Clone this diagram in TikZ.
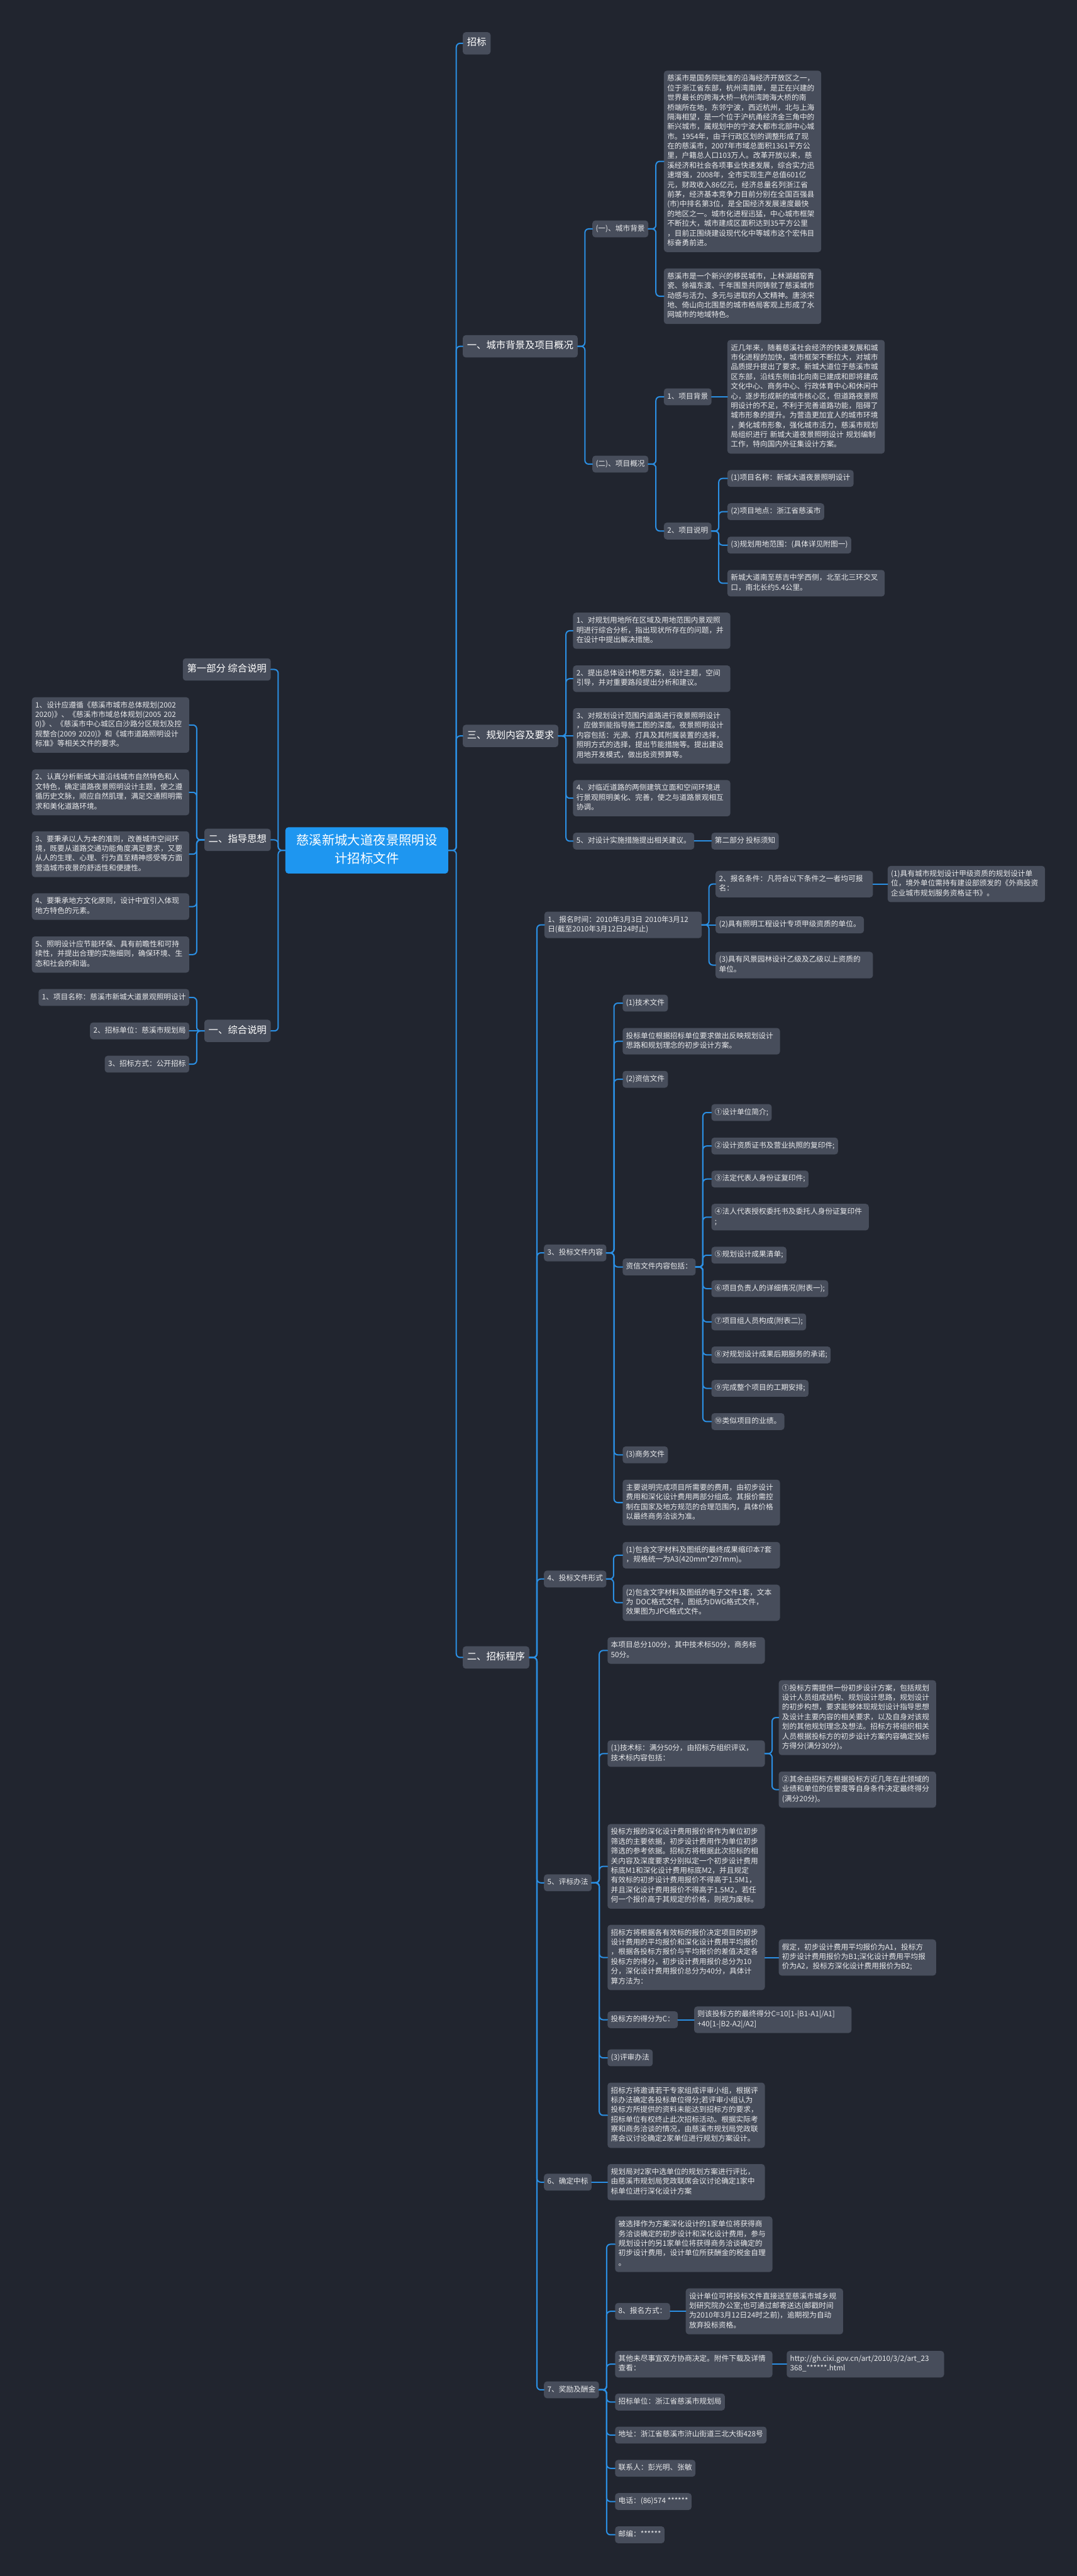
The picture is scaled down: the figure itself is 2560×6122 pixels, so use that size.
\documentclass[tikz,border=0pt]{standalone}
\usepackage{fontspec}
\setmainfont{Noto Sans CJK SC}
\definecolor{bgc}{HTML}{21252F}
\definecolor{boxc}{HTML}{474D5B}
\definecolor{linkc}{HTML}{2B8FE3}
\definecolor{rootc}{HTML}{1E96F0}
\definecolor{txtc}{HTML}{E9EAEC}
\begin{document}
\begin{tikzpicture}[x=1pt,y=-1pt,line cap=round,line join=round]
  \tikzset{
    box/.style={fill=boxc,text=txtc,rounded corners=7pt,inner xsep=8pt,inner ysep=8.5pt,
      font=\fontsize{17.5pt}{23pt}\selectfont,align=left,
      execute at begin node=\strut,execute at end node=\strut},
    para/.style={box,text width=358pt},
    head/.style={box,text=white,font=\fontsize{23pt}{30pt}\selectfont,inner xsep=10pt,inner ysep=11.5pt},
    rootbox/.style={fill=rootc,text=white,rounded corners=7pt,text width=345pt,align=center,
      inner xsep=21pt,inner ysep=12.5pt,font=\fontsize{30.5pt}{42.5pt}\selectfont,
      execute at begin node=\strut,execute at end node=\strut},
    link/.style={draw=linkc,line width=3pt,rounded corners=9pt}
  }
  \useasboundingbox (0,0) rectangle (2560,6122);
  \fill[bgc] (0,0) rectangle (2560,6122);

  \node[rootbox] (root) at (872,2021) {慈溪新城大道夜景照明设\\计招标文件};

  % main branches
  \node[head,anchor=west] (zb) at (1100,103) {招标};
  \node[head,anchor=west] (bg) at (1100,823) {一、城市背景及项目概况};
  \node[head,anchor=west] (gh) at (1100,1749) {三、规划内容及要求};
  \node[head,anchor=west] (cx) at (1100,3939) {二、招标程序};
  \node[head,anchor=east] (bf) at (644,1591) {第一部分 综合说明};
  \node[head,anchor=east] (zd) at (644,1996) {二、指导思想};
  \node[head,anchor=east] (zh) at (644,2450) {一、综合说明};

  % left side
  \node[para,anchor=east] (z1) at (450,1723) {1、设计应遵循《慈溪市城市总体规划(2002\\2020)》、《慈溪市市域总体规划(2005 202\\0)》、《慈溪市中心城区白沙路分区规划及控\\规整合(2009 2020)》和《城市道路照明设计\\标准》等相关文件的要求。};
  \node[para,anchor=east] (z2) at (450,1883) {2、认真分析新城大道沿线城市自然特色和人\\文特色，确定道路夜景照明设计主题，使之遵\\循历史文脉，顺应自然肌理，满足交通照明需\\求和美化道路环境。};
  \node[para,anchor=east] (z3) at (450,2030) {3、要秉承以人为本的准则，改善城市空间环\\境，既要从道路交通功能角度满足要求，又要\\从人的生理、心理、行为直至精神感受等方面\\营造城市夜景的舒适性和便捷性。};
  \node[para,anchor=east] (z4) at (450,2154.5) {4、要秉承地方文化原则，设计中宜引入体现\\地方特色的元素。};
  \node[para,anchor=east] (z5) at (450,2268.5) {5、照明设计应节能环保、具有前瞻性和可持\\续性，并提出合理的实施细则，确保环境、生\\态和社会的和谐。};
  \node[box,anchor=east] (h1) at (450,2370.5) {1、项目名称：慈溪市新城大道景观照明设计};
  \node[box,anchor=east] (h2) at (450,2450) {2、招标单位：慈溪市规划局};
  \node[box,anchor=east] (h3) at (450,2529) {3、招标方式：公开招标};

  % city background and project
  \node[box,anchor=west] (bg1) at (1408,544) {(一)、城市背景};
  \node[box,anchor=west] (bg2) at (1408,1103) {(二)、项目概况};
  \node[para,anchor=west] (t1) at (1578,383.5) {慈溪市是国务院批准的沿海经济开放区之一，\\位于浙江省东部，杭州湾南岸，是正在兴建的\\世界最长的跨海大桥—杭州湾跨海大桥的南\\桥端所在地，东邻宁波，西近杭州，北与上海\\隔海相望，是一个位于沪杭甬经济金三角中的\\新兴城市，属规划中的宁波大都市北部中心城\\市。1954年，由于行政区划的调整形成了现\\在的慈溪市，2007年市域总面积1361平方公\\里，户籍总人口103万人。改革开放以来，慈\\溪经济和社会各项事业快速发展，综合实力迅\\速增强，2008年，全市实现生产总值601亿\\元，财政收入86亿元，经济总量名列浙江省\\前茅，经济基本竞争力目前分别在全国百强县\\(市)中排名第3位，是全国经济发展速度最快\\的地区之一。城市化进程迅猛，中心城市框架\\不断拉大，城市建成区面积达到35平方公里\\，目前正围绕建设现代化中等城市这个宏伟目\\标奋勇前进。};
  \node[para,anchor=west] (t2) at (1578,704) {慈溪市是一个新兴的移民城市，上林湖越窑青\\瓷、徐福东渡、千年围垦共同铸就了慈溪城市\\动感与活力、多元与进取的人文精神。唐涂宋\\地、倚山向北围垦的城市格局客观上形成了水\\网城市的地域特色。};
  \node[box,anchor=west] (p1) at (1578,943) {1、项目背景};
  \node[box,anchor=west] (p2) at (1578,1262) {2、项目说明};
  \node[para,anchor=west] (p1t) at (1729,943) {近几年来，随着慈溪社会经济的快速发展和城\\市化进程的加快，城市框架不断拉大，对城市\\品质提升提出了要求。新城大道位于慈溪市城\\区东部，沿线东侧由北向南已建成和即将建成\\文化中心、商务中心、行政体育中心和休闲中\\心，逐步形成新的城市核心区，但道路夜景照\\明设计的不足，不利于完善道路功能，阻碍了\\城市形象的提升。为营造更加宜人的城市环境\\，美化城市形象，强化城市活力，慈溪市规划\\局组织进行 新城大道夜景照明设计 规划编制\\工作，特向国内外征集设计方案。};
  \node[box,anchor=west] (s1) at (1729,1137) {(1)项目名称：新城大道夜景照明设计};
  \node[box,anchor=west] (s2) at (1729,1216) {(2)项目地点：浙江省慈溪市};
  \node[box,anchor=west] (s3) at (1729,1295.5) {(3)规划用地范围：(具体详见附图一)};
  \node[para,anchor=west] (s4) at (1729,1386) {新城大道南至慈吉中学西侧，北至北三环交叉\\口，南北长约5.4公里。};

  % planning content
  \node[para,anchor=west] (g1) at (1362,1499) {1、对规划用地所在区域及用地范围内景观照\\明进行综合分析，指出现状所存在的问题，并\\在设计中提出解决措施。};
  \node[para,anchor=west] (g2) at (1362,1613) {2、提出总体设计构思方案，设计主题，空间\\引导，并对重要路段提出分析和建议。};
  \node[para,anchor=west] (g3) at (1362,1749) {3、对规划设计范围内道路进行夜景照明设计\\，应做到能指导施工图的深度。夜景照明设计\\内容包括：光源、灯具及其附属装置的选择，\\照明方式的选择，提出节能措施等。提出建设\\用地开发模式，做出投资预算等。};
  \node[para,anchor=west] (g4) at (1362,1897) {4、对临近道路的两侧建筑立面和空间环境进\\行景观照明美化、完善，使之与道路景观相互\\协调。};
  \node[box,anchor=west] (g5) at (1362,1999) {5、对设计实施措施提出相关建议。};
  \node[box,anchor=west] (g6) at (1691,1999) {第二部分 投标须知};

  % procedure
  \node[para,anchor=west] (c1) at (1294,2198) {1、报名时间：2010年3月3日 2010年3月12\\日(截至2010年3月12日24时止)};
  \node[para,anchor=west] (c12) at (1701,2101) {2、报名条件：凡符合以下条件之一者均可报\\名：};
  \node[para,anchor=west] (c12a) at (2110,2101) {(1)具有城市规划设计甲级资质的规划设计单\\位，境外单位需持有建设部颁发的《外商投资\\企业城市规划服务资格证书》。};
  \node[box,anchor=west] (c1b) at (1701,2198) {(2)具有照明工程设计专项甲级资质的单位。};
  \node[para,anchor=west] (c1c) at (1701,2293.5) {(3)具有风景园林设计乙级及乙级以上资质的\\单位。};

  \node[box,anchor=west] (c3) at (1293,2977.5) {3、投标文件内容};
  \node[box,anchor=west] (c31) at (1480,2384) {(1)技术文件};
  \node[para,anchor=west] (c32) at (1480,2474.5) {投标单位根据招标单位要求做出反映规划设计\\思路和规划理念的初步设计方案。};
  \node[box,anchor=west] (c33) at (1480,2565) {(2)资信文件};
  \node[box,anchor=west] (c34) at (1480,3011) {资信文件内容包括：};
  \node[box,anchor=west] (c35) at (1480,3457.5) {(3)商务文件};
  \node[para,anchor=west] (c36) at (1480,3571) {主要说明完成项目所需要的费用，由初步设计\\费用和深化设计费用两部分组成。其报价需控\\制在国家及地方规范的合理范围内，具体价格\\以最终商务洽谈为准。};
  \node[box,anchor=west] (q1) at (1691,2644) {①设计单位简介;};
  \node[box,anchor=west] (q2) at (1691,2723.5) {②设计资质证书及营业执照的复印件;};
  \node[box,anchor=west] (q3) at (1691,2802) {③法定代表人身份证复印件;};
  \node[para,anchor=west] (q4) at (1691,2892.5) {④法人代表授权委托书及委托人身份证复印件\\;};
  \node[box,anchor=west] (q5) at (1691,2983) {⑤规划设计成果清单;};
  \node[box,anchor=west] (q6) at (1691,3062.5) {⑥项目负责人的详细情况(附表一);};
  \node[box,anchor=west] (q7) at (1691,3141.5) {⑦项目组人员构成(附表二);};
  \node[box,anchor=west] (q8) at (1691,3220) {⑧对规划设计成果后期服务的承诺;};
  \node[box,anchor=west] (q9) at (1691,3299.5) {⑨完成整个项目的工期安排;};
  \node[box,anchor=west] (q10) at (1691,3378.5) {⑩类似项目的业绩。};

  \node[box,anchor=west] (c4) at (1293,3752.5) {4、投标文件形式};
  \node[para,anchor=west] (c41) at (1480,3696) {(1)包含文字材料及图纸的最终成果缩印本7套\\，规格统一为A3(420mm*297mm)。};
  \node[para,anchor=west] (c42) at (1480,3809) {(2)包含文字材料及图纸的电子文件1套，文本\\为 DOC格式文件，图纸为DWG格式文件，\\效果图为JPG格式文件。};

  \node[box,anchor=west] (c5) at (1293,4474.5) {5、评标办法};
  \node[para,anchor=west] (e1) at (1444,3922.5) {本项目总分100分，其中技术标50分，商务标\\50分。};
  \node[para,anchor=west] (e2) at (1444,4167.5) {(1)技术标：满分50分，由招标方组织评议，\\技术标内容包括：};
  \node[para,anchor=west] (e21) at (1851,4082) {①投标方需提供一份初步设计方案，包括规划\\设计人员组成结构、规划设计思路，规划设计\\的初步构想，要求能够体现规划设计指导思想\\及设计主要内容的相关要求，以及自身对该规\\划的其他规划理念及想法。招标方将组织相关\\人员根据投标方的初步设计方案内容确定投标\\方得分(满分30分)。};
  \node[para,anchor=west] (e22) at (1851,4253) {②其余由招标方根据投标方近几年在此领域的\\业绩和单位的信誉度等自身条件决定最终得分\\(满分20分)。};
  \node[para,anchor=west] (e3) at (1444,4435.5) {投标方报的深化设计费用报价将作为单位初步\\筛选的主要依据，初步设计费用作为单位初步\\筛选的参考依据。招标方将根据此次招标的相\\关内容及深度要求分别拟定一个初步设计费用\\标底M1和深化设计费用标底M2，并且规定\\有效标的初步设计费用报价不得高于1.5M1，\\并且深化设计费用报价不得高于1.5M2，若任\\何一个报价高于其规定的价格，则视为废标。};
  \node[para,anchor=west] (e4) at (1444,4652) {招标方将根据各有效标的报价决定项目的初步\\设计费用的平均报价和深化设计费用平均报价\\，根据各投标方报价与平均报价的差值决定各\\投标方的得分，初步设计费用报价总分为10\\分，深化设计费用报价总分为40分，具体计\\算方法为：};
  \node[para,anchor=west] (e41) at (1851,4652) {假定，初步设计费用平均报价为A1，投标方\\初步设计费用报价为B1;深化设计费用平均报\\价为A2，投标方深化设计费用报价为B2;};
  \node[box,anchor=west] (e5) at (1444,4800) {投标方的得分为C：};
  \node[para,anchor=west] (e51) at (1650,4800) {则该投标方的最终得分C=10[1-|B1-A1|/A1]\\+40[1-|B2-A2|/A2]};
  \node[box,anchor=west] (e6) at (1444,4890.5) {(3)评审办法};
  \node[para,anchor=west] (e7) at (1444,5027) {招标方将邀请若干专家组成评审小组，根据评\\标办法确定各投标单位得分;若评审小组认为\\投标方所提供的资料未能达到招标方的要求，\\招标单位有权终止此次招标活动。根据实际考\\察和商务洽谈的情况，由慈溪市规划局党政联\\席会议讨论确定2家单位进行规划方案设计。};

  \node[box,anchor=west] (c6) at (1293,5186) {6、确定中标};
  \node[para,anchor=west] (f1) at (1444,5186) {规划局对2家中选单位的规划方案进行评比，\\由慈溪市规划局党政联席会议讨论确定1家中\\标单位进行深化设计方案};

  \node[box,anchor=west] (c7) at (1293,5679.5) {7、奖励及酬金};
  \node[para,anchor=west] (r1) at (1462,5333.5) {被选择作为方案深化设计的1家单位将获得商\\务洽谈确定的初步设计和深化设计费用，参与\\规划设计的另1家单位将获得商务洽谈确定的\\初步设计费用，设计单位所获酬金的税金自理\\。};
  \node[box,anchor=west] (r2) at (1462,5493) {8、报名方式：};
  \node[para,anchor=west] (r21) at (1630,5493) {设计单位可将投标文件直接送至慈溪市城乡规\\划研究院办公室;也可通过邮寄送达(邮戳时间\\为2010年3月12日24时之前)，逾期视为自动\\放弃投标资格。};
  \node[para,anchor=west] (r3) at (1462,5618.5) {其他未尽事宜双方协商决定。附件下载及详情\\查看：};
  \node[para,anchor=west] (r31) at (1870,5618.5) {http://gh.cixi.gov.cn/art/2010/3/2/art\_23\\368\_******.html};
  \node[box,anchor=west] (r4) at (1462,5708.5) {招标单位：浙江省慈溪市规划局};
  \node[box,anchor=west] (r5) at (1462,5787) {地址：浙江省慈溪市浒山街道三北大街428号};
  \node[box,anchor=west] (r6) at (1462,5866) {联系人：彭光明、张敏};
  \node[box,anchor=west] (r7) at (1462,5945) {电话：(86)574 ******};
  \node[box,anchor=west] (r8) at (1462,6024) {邮编：******};

  % connectors
  \foreach \c in {zb,bg,gh,cx} \draw[link] (root.east) -- ++(19,0) |- (\c.west);
  \foreach \c in {bf,zd,zh} \draw[link] (root.west) -- ++(-17,0) |- (\c.east);
  \foreach \c in {z1,z2,z3,z4,z5} \draw[link] (zd.west) -- ++(-18,0) |- (\c.east);
  \foreach \c in {h1,h3} \draw[link] (zh.west) -- ++(-18,0) |- (\c.east);
  \draw[link] (zh.west) -- (h2.east);
  \foreach \c in {bg1,bg2} \draw[link] (bg.east) -- ++(17,0) |- (\c.west);
  \foreach \c in {t1,t2} \draw[link] (bg1.east) -- ++(18,0) |- (\c.west);
  \foreach \c in {p1,p2} \draw[link] (bg2.east) -- ++(18,0) |- (\c.west);
  \draw[link] (p1.east) -- (p1t.west);
  \foreach \c in {s1,s2,s3,s4} \draw[link] (p2.east) -- ++(17,0) |- (\c.west);
  \foreach \c in {g1,g2,g4,g5} \draw[link] (gh.east) -- ++(18,0) |- (\c.west);
  \draw[link] (gh.east) -- (g3.west);
  \draw[link] (g5.east) -- (g6.west);
  \foreach \c in {c1,c3,c4,c5,c6,c7} \draw[link] (cx.east) -- ++(18,0) |- (\c.west);
  \foreach \c in {c12,c1c} \draw[link] (c1.east) -- ++(17,0) |- (\c.west);
  \draw[link] (c1.east) -- (c1b.west);
  \draw[link] (c12.east) -- (c12a.west);
  \foreach \c in {c31,c32,c33,c34,c35,c36} \draw[link] (c3.east) -- ++(18,0) |- (\c.west);
  \foreach \c in {q1,q2,q3,q4,q5,q6,q7,q8,q9,q10} \draw[link] (c34.east) -- ++(17,0) |- (\c.west);
  \foreach \c in {c41,c42} \draw[link] (c4.east) -- ++(17,0) |- (\c.west);
  \foreach \c in {e1,e2,e3,e4,e5,e6,e7} \draw[link] (c5.east) -- ++(18,0) |- (\c.west);
  \foreach \c in {e21,e22} \draw[link] (e2.east) -- ++(17,0) |- (\c.west);
  \draw[link] (e4.east) -- (e41.west);
  \draw[link] (e5.east) -- (e51.west);
  \draw[link] (c6.east) -- (f1.west);
  \foreach \c in {r1,r2,r3,r4,r5,r6,r7,r8} \draw[link] (c7.east) -- ++(18,0) |- (\c.west);
  \draw[link] (r2.east) -- (r21.west);
  \draw[link] (r3.east) -- (r31.west);
\end{tikzpicture}
\end{document}
